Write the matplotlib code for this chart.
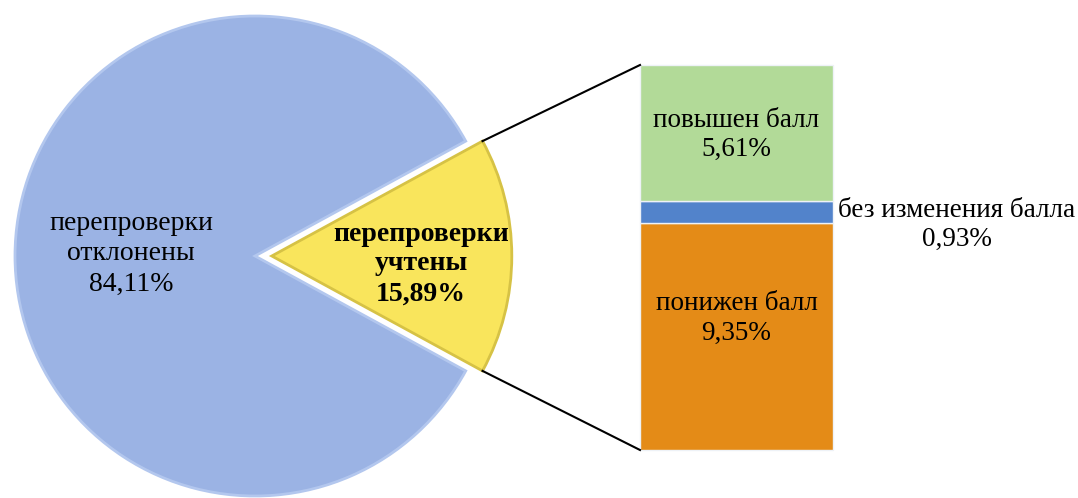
import numpy as np
import matplotlib
matplotlib.use('Agg')
import matplotlib.pyplot as plt

plt.rcParams['font.family'] = ['Liberation Serif', 'DejaVu Serif']

# pie data
pie_labels = ['перепроверки\nотклонены\n84,11%', 'перепроверки\nучтены\n15,89%']
pie_values = [84.11, 15.89]
pie_colors = ['#9BB3E4', '#F9E55C']

# bar data (breakdown of the yellow slice), drawn bottom to top
bar_labels = ['понижен балл\n9,35%', 'без изменения балла\n0,93%', 'повышен балл\n5,61%']
bar_values = [9.35, 0.93, 5.61]
bar_colors = ['#E48B17', '#5283CB', '#B2DA98']

W, H = 1078, 498
fig = plt.figure(figsize=(W / 100, H / 100), dpi=100)
ax = fig.add_axes([0, 0, 1, 1])

# pie, working in pixel units (y up)
cx, cy, r = 255, 242, 240
start = pie_values[1] / sum(pie_values) * 360 / 2
wedges, _ = ax.pie(pie_values, colors=pie_colors, center=(cx, cy), radius=r,
                   startangle=start, explode=[0, 0.07 * r], frame=True,
                   wedgeprops=dict(linewidth=2))
wedges[0].set_edgecolor('#B3C7EE')
wedges[1].set_edgecolor('#D6C245')

ax.text(131, 244, pie_labels[0], ha='center', va='center', fontsize=20,
        linespacing=1.3)
ax.text(421, 234, pie_labels[1], ha='center', va='center', fontsize=20,
        fontweight='bold', linespacing=1.25)

# stacked bar
bx, bw = 736.5, 193
b_bottom, b_top = 48, 433
scale = (b_top - b_bottom) / sum(bar_values)
bottom = b_bottom
spans = []
for v, c in zip(bar_values, bar_colors):
    ax.bar(bx, v * scale, bottom=bottom, width=bw, color=c,
           edgecolor='#EEF2F7', linewidth=1)
    spans.append((bottom, bottom + v * scale))
    bottom += v * scale

ax.text(bx, (spans[0][0] + spans[0][1]) / 2 + 18, bar_labels[0], ha='center',
        va='center', fontsize=19.5, linespacing=1.25)
ax.text(bx, (spans[2][0] + spans[2][1]) / 2 - 2, bar_labels[2], ha='center',
        va='center', fontsize=19.5, linespacing=1.25)
ax.text(957, 273, bar_labels[1], ha='center', va='center', fontsize=19.5,
        linespacing=1.25)

# connector lines from the yellow wedge to the bar
w = wedges[1]
wcx, wcy = w.center
for ang, yb in [(w.theta1, b_bottom), (w.theta2, b_top)]:
    px = wcx + r * np.cos(np.radians(ang))
    py = wcy + r * np.sin(np.radians(ang))
    ax.plot([px, bx - bw / 2], [py, yb], color='black', linewidth=1.5)

ax.set_xlim(0, W)
ax.set_ylim(0, H)
ax.set_aspect('equal')
ax.axis('off')

fig.savefig('out.png', dpi=100)
